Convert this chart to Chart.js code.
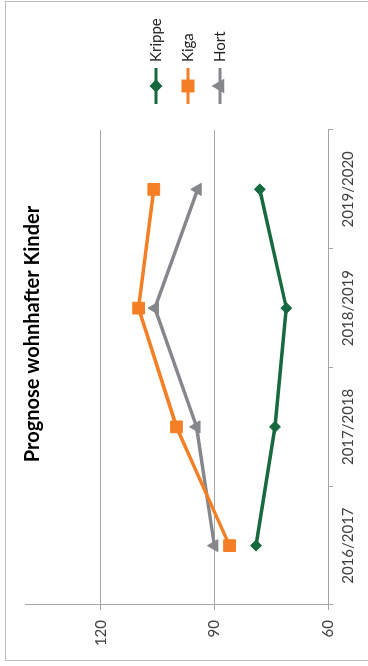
<!DOCTYPE html>
<html><head><meta charset="utf-8">
<script src="https://cdn.jsdelivr.net/npm/chart.js@4/dist/chart.umd.min.js"></script>
<style>
html,body{margin:0;padding:0;background:#fff;overflow:hidden;width:368px;height:666px}
#frame{position:absolute;left:5px;top:1px;width:372px;height:658px;border:1px solid #bdbdbd}
#wrap{position:absolute;left:0;top:0;width:666px;height:368px;transform-origin:0 0;transform:translateY(666px) rotate(-90deg)}
</style></head><body>
<div id="frame"></div>
<div id="wrap"><canvas id="c" width="666" height="368"></canvas></div>
<script>
// Schuljahre + Prognosewerte
const years=['2016/2017','2017/2018','2018/2019','2019/2020']
const krippe=[79,74,71,78]
const kiga=[86,100,110,106]
const hort=[90,94.7,105.7,94.4]
const valueTicks=[60,90,120]
const titleText='Prognose wohnhafter Kinder'

const green='#17693f',orange='#f47f24',grey='#85878b'
const font='Lato, "Open Sans", sans-serif'

function ds(label,data,color,style,r,lr){
  return {label,data,borderColor:color,backgroundColor:color,borderWidth:3.5,
    pointStyle:style,pointRadius:r,pointHoverRadius:r,pointBorderWidth:1,
    pointBackgroundColor:color,pointBorderColor:color,tension:0,fill:false,legendRadius:lr}
}

// Legende rechts (Linie + Marker) und Titel im Plotbereich, wie im Original
const legendPlugin={
  id:'sideLegend',
  afterDraw(chart){
    const ctx=chart.ctx, a=chart.chartArea
    ctx.save()
    chart.data.datasets.forEach((d,i)=>{
      const y=156+32*i, x0=a.right+26
      ctx.strokeStyle=d.borderColor;ctx.lineWidth=3;ctx.lineCap='butt'
      ctx.beginPath();ctx.moveTo(x0,y);ctx.lineTo(x0+36,y);ctx.stroke()
      ctx.fillStyle=d.borderColor
      Chart.helpers.drawPoint(ctx,{pointStyle:d.pointStyle,radius:d.legendRadius,borderWidth:1,rotation:0},x0+18,y)
      ctx.fill()
      ctx.fillStyle='#262626';ctx.font='15px '+font;ctx.textBaseline='middle';ctx.textAlign='left'
      ctx.fillText(d.label,x0+42,y)
    })
    ctx.font='bold 20px '+font;ctx.textAlign='center';ctx.fillStyle='#000'
    ctx.fillText(titleText,332,33)
    ctx.restore()
  }
}

new Chart(document.getElementById('c'),{
  type:'line',
  data:{labels:years,datasets:[
    ds('Krippe',krippe,green,'rectRot',5.5,4.5),
    ds('Kiga',kiga,orange,'rect',8.3,7),
    ds('Hort',hort,grey,'triangle',7,5.5)
  ]},
  options:{
    responsive:false,animation:false,
    layout:{padding:{top:25,right:130,left:0,bottom:0}},
    plugins:{legend:{display:false},title:{display:false},tooltip:{enabled:false}},
    scales:{
      x:{offset:true,
        grid:{offset:true,drawOnChartArea:false,drawTicks:true,tickLength:5,color:'#a6a6a6'},
        border:{color:'#a6a6a6'},
        ticks:{color:'#404040',font:{family:font,size:15},padding:6,maxRotation:0},
        afterFit(s){s.height=40}},
      y:{min:60,max:140,
        afterBuildTicks(s){s.ticks=valueTicks.map(v=>({value:v}))},
        grid:{color:'#a6a6a6',tickLength:5},
        border:{color:'#a6a6a6'},
        ticks:{color:'#404040',font:{family:font,size:15},padding:10},
        afterFit(s){s.width=61}}
    }
  },
  plugins:[legendPlugin]
})
</script>
</body></html>
